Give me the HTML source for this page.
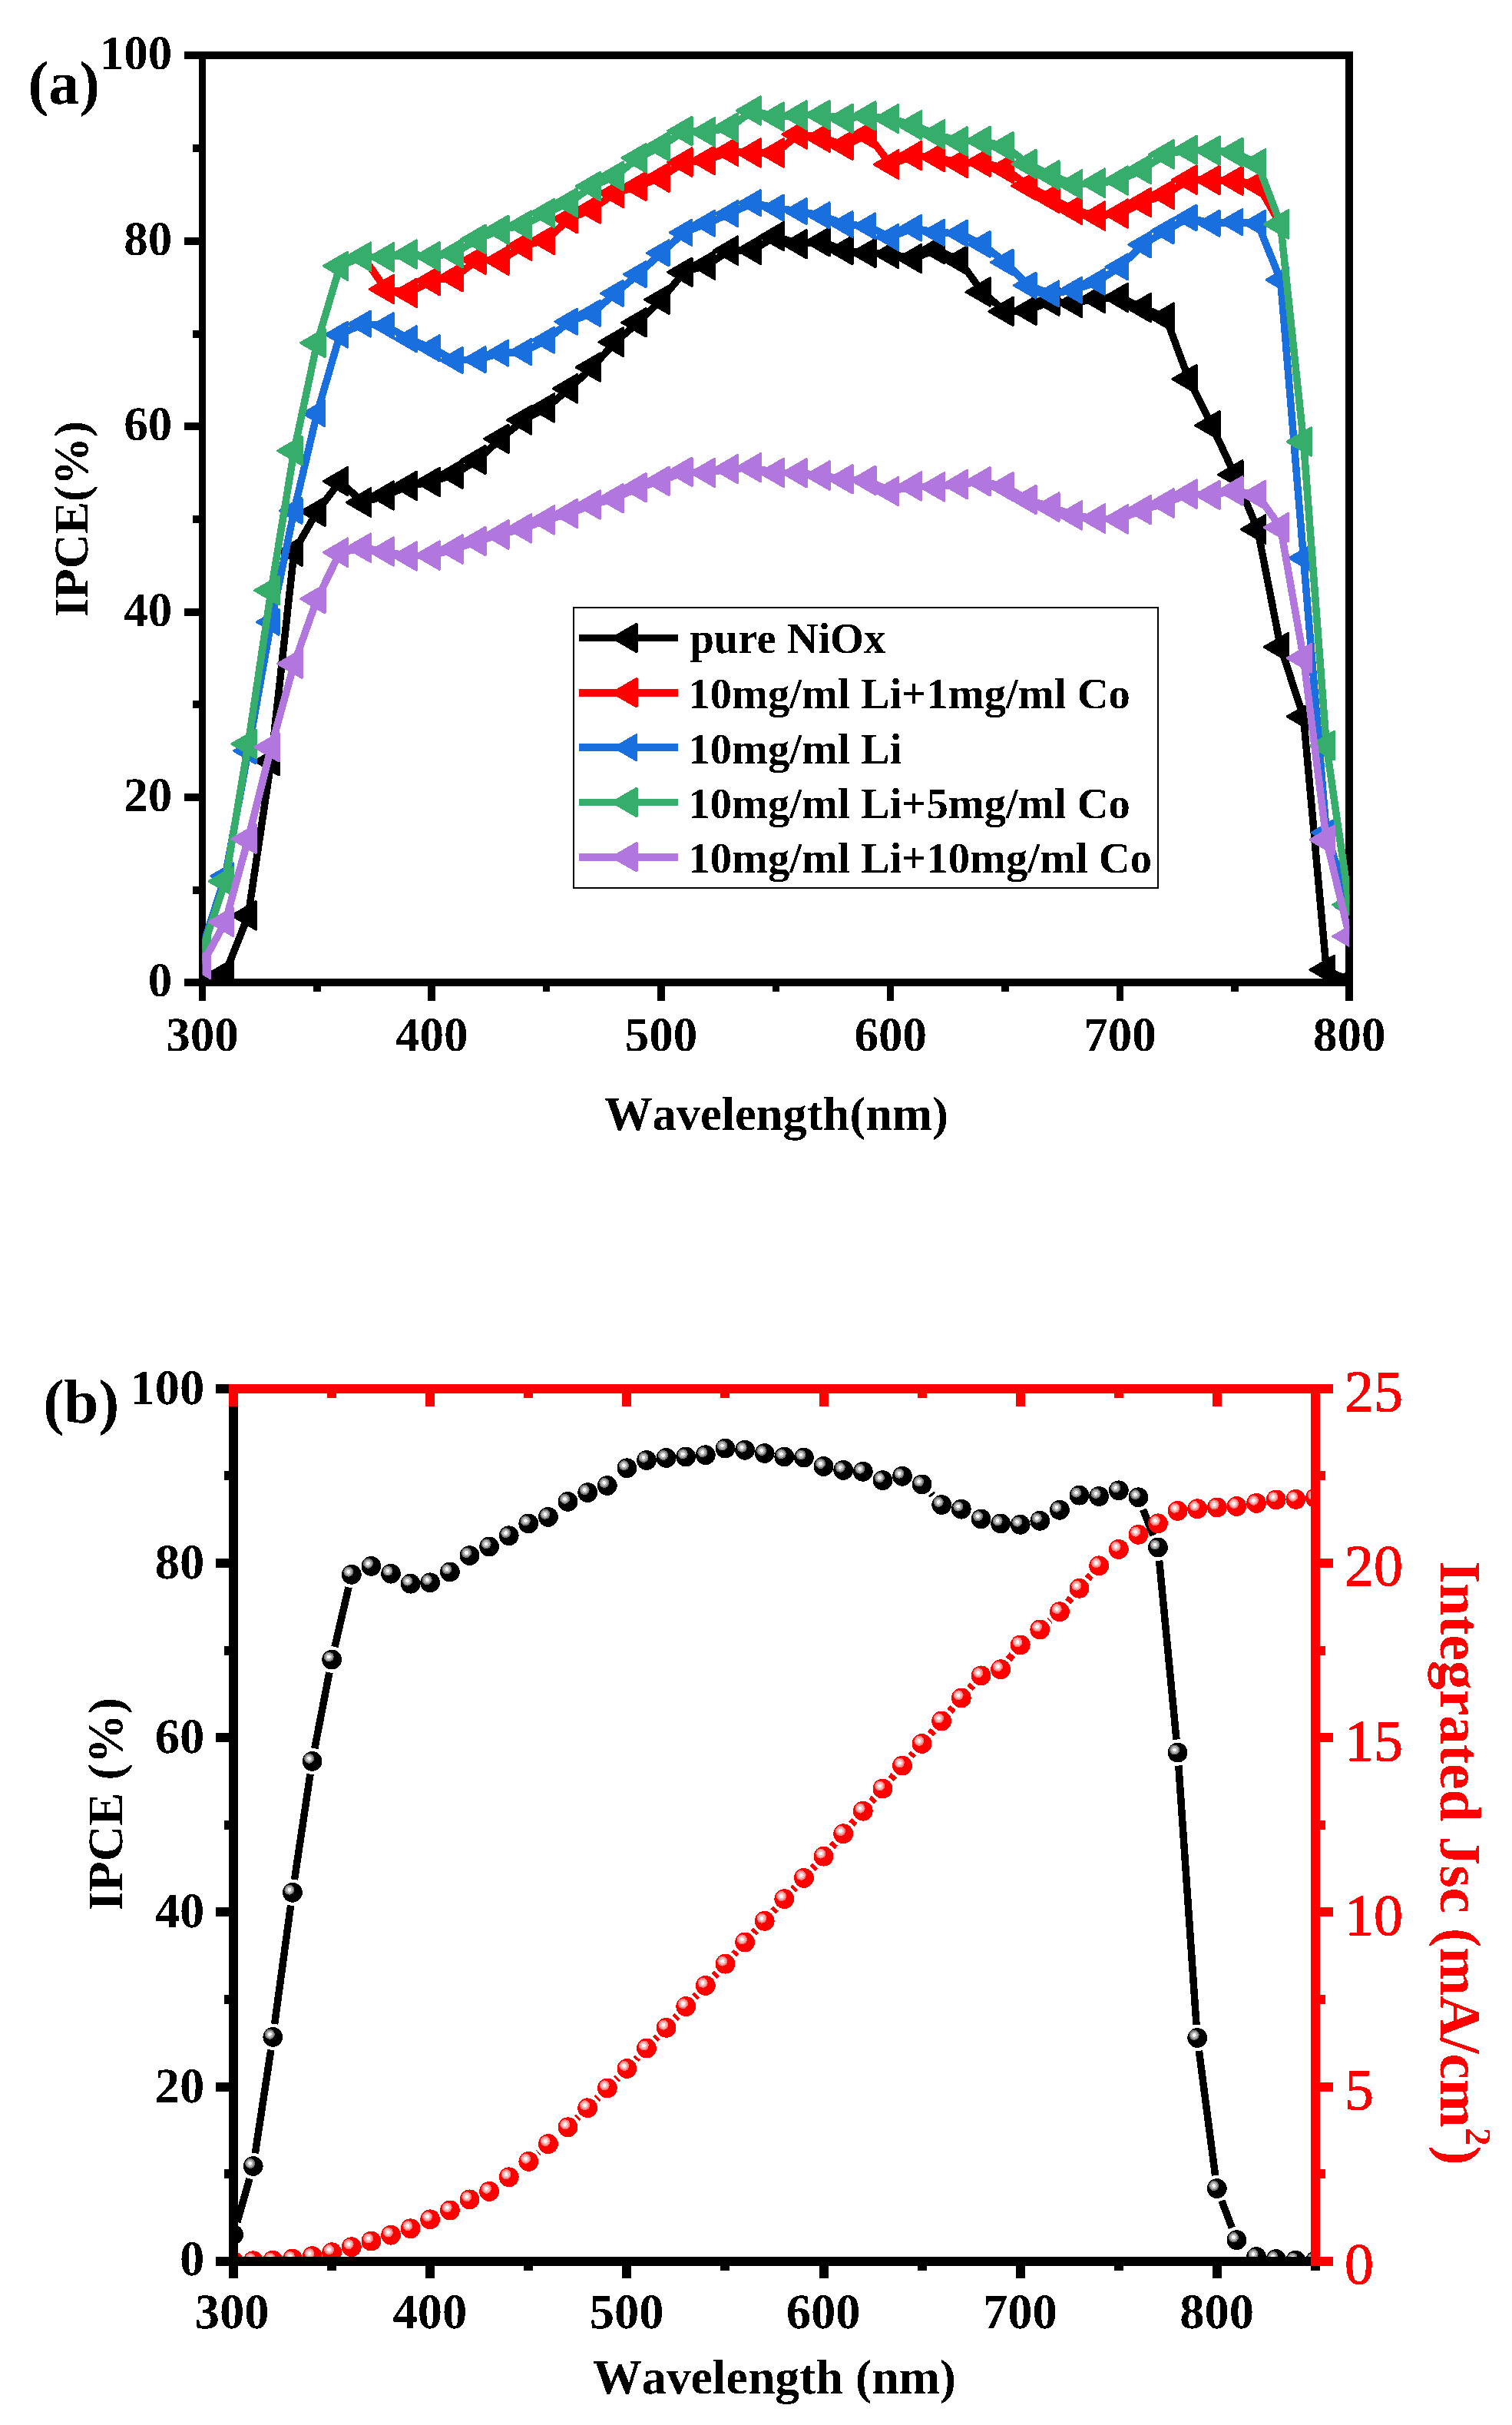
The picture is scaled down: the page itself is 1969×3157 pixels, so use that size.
<!DOCTYPE html>
<html><head><meta charset="utf-8"><title>IPCE spectra</title>
<style>html,body{margin:0;padding:0;background:#fff}svg{display:block}</style></head>
<body><svg width="1969" height="3157" viewBox="0 0 1969 3157" shape-rendering="crispEdges" text-rendering="geometricPrecision"><defs><clipPath id="ca"><rect x="263.5" y="72.3" width="1493.7" height="1211.8"/></clipPath>
<clipPath id="cb"><rect x="304.1" y="1807.9" width="1408.8000000000002" height="1135.9"/></clipPath>
<radialGradient id="gk" cx="0.5" cy="0.5" r="0.5"><stop offset="0" stop-color="#fff"/><stop offset="0.36" stop-color="#fff"/><stop offset="0.38" stop-color="#b4b4b4"/><stop offset="0.71" stop-color="#b4b4b4"/><stop offset="0.73" stop-color="#787878"/><stop offset="1" stop-color="#787878"/></radialGradient>
<radialGradient id="gr" cx="0.5" cy="0.5" r="0.5"><stop offset="0" stop-color="#fff"/><stop offset="0.36" stop-color="#fff"/><stop offset="0.38" stop-color="#ffb8b8"/><stop offset="0.71" stop-color="#ffb8b8"/><stop offset="0.73" stop-color="#ff7c7c"/><stop offset="1" stop-color="#ff7c7c"/></radialGradient>
<filter id="bin" x="0" y="0" width="1969" height="3157" filterUnits="userSpaceOnUse" color-interpolation-filters="sRGB"><feComponentTransfer><feFuncA type="discrete" tableValues="0 1"/></feComponentTransfer></filter>
<g id="bk"><circle r="12.9" fill="#000"/><circle cx="-4" cy="-3.6" r="6.5" fill="url(#gk)"/></g>
<g id="br"><circle r="12.9" fill="#f00"/><circle cx="-3.7" cy="-3.6" r="6.5" fill="url(#gr)"/></g>
</defs>
<rect x="259" y="67" width="1503" height="10" fill="#000"/><rect x="259" y="1274" width="1503" height="10" fill="#000"/><rect x="259" y="67" width="9" height="1217" fill="#000"/><rect x="1752" y="67" width="10" height="1217" fill="#000"/><rect x="239.75" y="1274" width="20.00" height="10" fill="#000"/><rect x="251.25" y="1154" width="8.50" height="9.5" fill="#000"/><rect x="239.75" y="1033" width="20.00" height="10" fill="#000"/><rect x="251.25" y="912" width="8.50" height="9.5" fill="#000"/><rect x="239.75" y="792" width="20.00" height="10" fill="#000"/><rect x="251.25" y="671" width="8.50" height="9.5" fill="#000"/><rect x="239.75" y="550" width="20.00" height="10" fill="#000"/><rect x="251.25" y="430" width="8.50" height="9.5" fill="#000"/><rect x="239.75" y="309" width="20.00" height="10" fill="#000"/><rect x="251.25" y="188" width="8.50" height="9.5" fill="#000"/><rect x="239.75" y="67" width="20.00" height="10" fill="#000"/><rect x="258.75" y="1283.05" width="9.5" height="20.00" fill="#000"/><rect x="408.12" y="1283.05" width="9.5" height="8.00" fill="#000"/><rect x="557.49" y="1283.05" width="9.5" height="20.00" fill="#000"/><rect x="706.86" y="1283.05" width="9.5" height="8.00" fill="#000"/><rect x="856.23" y="1283.05" width="9.5" height="20.00" fill="#000"/><rect x="1005.60" y="1283.05" width="9.5" height="8.00" fill="#000"/><rect x="1154.97" y="1283.05" width="9.5" height="20.00" fill="#000"/><rect x="1304.34" y="1283.05" width="9.5" height="8.00" fill="#000"/><rect x="1453.71" y="1283.05" width="9.5" height="20.00" fill="#000"/><rect x="1603.08" y="1283.05" width="9.5" height="8.00" fill="#000"/><rect x="1752.45" y="1283.05" width="9.5" height="20.00" fill="#000"/>
<g clip-path="url(#ca)">
<polyline points="263.5,1276.9 293.4,1267.2 323.2,1191.9 353.1,990.8 383.0,718.0 412.9,666.1 442.7,626.6 472.6,654.1 502.5,645.0 532.4,632.3 562.2,627.5 592.1,617.3 622.0,598.6 651.9,571.3 681.7,546.9 711.6,531.0 741.5,505.9 771.4,478.1 801.2,445.3 831.1,419.9 861.0,390.1 890.9,354.3 920.7,345.1 950.6,326.1 980.5,325.4 1010.4,307.7 1040.2,317.8 1070.1,314.9 1100.0,325.8 1129.8,329.4 1159.7,330.6 1189.6,336.6 1219.5,324.6 1249.3,339.0 1279.2,380.1 1309.1,405.4 1339.0,404.2 1368.8,392.2 1398.7,394.6 1428.6,388.5 1458.5,387.3 1488.3,400.6 1518.2,413.3 1548.1,493.5 1578.0,553.9 1607.8,617.9 1637.7,689.1 1667.6,842.4 1697.5,932.9 1727.3,1262.5 1757.2,1276.9" fill="none" stroke="#000000" stroke-width="9.5" stroke-linejoin="round"/><g fill="#000000" stroke="#000000" stroke-width="3.2" stroke-linejoin="round"><path d="M242.3 1276.9L273.6 1258.8V1295.0Z"/><path d="M272.2 1267.2L303.5 1249.1V1285.4Z"/><path d="M302.0 1191.9L333.3 1173.8V1210.0Z"/><path d="M331.9 990.8L363.2 972.7V1009.0Z"/><path d="M361.8 718.0L393.1 699.9V736.2Z"/><path d="M391.7 666.1L423.0 648.0V684.3Z"/><path d="M421.5 626.6L452.8 608.4V644.7Z"/><path d="M451.4 654.1L482.7 635.9V672.2Z"/><path d="M481.3 645.0L512.6 626.9V663.2Z"/><path d="M511.2 632.3L542.5 614.2V650.5Z"/><path d="M541.0 627.5L572.3 609.4V645.6Z"/><path d="M570.9 617.3L602.2 599.1V635.4Z"/><path d="M600.8 598.6L632.1 580.4V616.7Z"/><path d="M630.7 571.3L662.0 553.1V589.4Z"/><path d="M660.5 546.9L691.8 528.8V565.0Z"/><path d="M690.4 531.0L721.7 512.8V549.1Z"/><path d="M720.3 505.9L751.6 487.7V524.0Z"/><path d="M750.2 478.1L781.5 460.0V496.2Z"/><path d="M780.0 445.3L811.3 427.1V463.4Z"/><path d="M809.9 419.9L841.2 401.8V438.0Z"/><path d="M839.8 390.1L871.1 372.0V408.2Z"/><path d="M869.7 354.3L901.0 336.1V372.4Z"/><path d="M899.5 345.1L930.8 327.0V363.2Z"/><path d="M929.4 326.1L960.7 308.0V344.3Z"/><path d="M959.3 325.4L990.6 307.3V343.5Z"/><path d="M989.1 307.7L1020.5 289.5V325.8Z"/><path d="M1019.0 317.8L1050.3 299.7V335.9Z"/><path d="M1048.9 314.9L1080.2 296.8V333.0Z"/><path d="M1078.8 325.8L1110.1 307.6V343.9Z"/><path d="M1108.6 329.4L1139.9 311.3V347.5Z"/><path d="M1138.5 330.6L1169.8 312.5V348.7Z"/><path d="M1168.4 336.6L1199.7 318.5V354.8Z"/><path d="M1198.3 324.6L1229.6 306.4V342.7Z"/><path d="M1228.1 339.0L1259.4 320.9V357.2Z"/><path d="M1258.0 380.1L1289.3 362.0V398.2Z"/><path d="M1287.9 405.4L1319.2 387.3V423.6Z"/><path d="M1317.8 404.2L1349.1 386.1V422.4Z"/><path d="M1347.6 392.2L1378.9 374.0V410.3Z"/><path d="M1377.5 394.6L1408.8 376.4V412.7Z"/><path d="M1407.4 388.5L1438.7 370.4V406.7Z"/><path d="M1437.3 387.3L1468.6 369.2V405.5Z"/><path d="M1467.1 400.6L1498.4 382.5V418.7Z"/><path d="M1497.0 413.3L1528.3 395.1V431.4Z"/><path d="M1526.9 493.5L1558.2 475.4V511.7Z"/><path d="M1556.8 553.9L1588.1 535.8V572.0Z"/><path d="M1586.6 617.9L1617.9 599.7V636.0Z"/><path d="M1616.5 689.1L1647.8 670.9V707.2Z"/><path d="M1646.4 842.4L1677.7 824.2V860.5Z"/><path d="M1676.3 932.9L1707.6 914.8V951.0Z"/><path d="M1706.1 1262.5L1737.4 1244.4V1280.7Z"/><path d="M1736.0 1276.9L1767.3 1258.8V1295.0Z"/></g>
<polyline points="263.5,1237.1 293.4,1147.4 323.2,968.5 353.1,768.7 383.0,586.8 412.9,446.5 442.7,346.3 472.6,334.2 502.5,376.5 532.4,381.3 562.2,365.6 592.1,360.8 622.0,338.2 651.9,339.0 681.7,320.1 711.6,312.5 741.5,284.7 771.4,272.1 801.2,251.3 831.1,242.5 861.0,231.0 890.9,211.1 920.7,208.7 950.6,197.1 980.5,199.0 1010.4,199.0 1040.2,174.9 1070.1,179.1 1100.0,189.4 1129.8,174.9 1159.7,214.1 1189.6,202.7 1219.5,204.5 1249.3,212.3 1279.2,211.1 1309.1,219.6 1339.0,241.9 1368.8,258.2 1398.7,273.3 1428.6,281.1 1458.5,278.1 1488.3,263.6 1518.2,253.3 1548.1,234.0 1578.0,234.5 1607.8,235.2 1637.7,240.1 1667.6,292.0 1697.5,575.0 1727.3,970.7 1757.2,1177.9" fill="none" stroke="#ff0000" stroke-width="9.5" stroke-linejoin="round"/><g fill="#ff0000" stroke="#ff0000" stroke-width="3.2" stroke-linejoin="round"><path d="M242.3 1237.1L273.6 1218.9V1255.2Z"/><path d="M272.2 1147.4L303.5 1129.2V1165.5Z"/><path d="M302.0 968.5L333.3 950.4V986.6Z"/><path d="M331.9 768.7L363.2 750.6V786.9Z"/><path d="M361.8 586.8L393.1 568.7V605.0Z"/><path d="M391.7 446.5L423.0 428.3V464.6Z"/><path d="M421.5 346.3L452.8 328.2V364.4Z"/><path d="M451.4 334.2L482.7 316.1V352.3Z"/><path d="M481.3 376.5L512.6 358.3V394.6Z"/><path d="M511.2 381.3L542.5 363.2V399.4Z"/><path d="M541.0 365.6L572.3 347.5V383.7Z"/><path d="M570.9 360.8L602.2 342.6V378.9Z"/><path d="M600.8 338.2L632.1 320.1V356.3Z"/><path d="M630.7 339.0L662.0 320.9V357.2Z"/><path d="M660.5 320.1L691.8 302.0V338.2Z"/><path d="M690.4 312.5L721.7 294.4V330.6Z"/><path d="M720.3 284.7L751.6 266.6V302.9Z"/><path d="M750.2 272.1L781.5 253.9V290.2Z"/><path d="M780.0 251.3L811.3 233.2V269.4Z"/><path d="M809.9 242.5L841.2 224.4V260.6Z"/><path d="M839.8 231.0L871.1 212.9V249.2Z"/><path d="M869.7 211.1L901.0 193.0V229.2Z"/><path d="M899.5 208.7L930.8 190.6V226.8Z"/><path d="M929.4 197.1L960.7 179.0V215.2Z"/><path d="M959.3 199.0L990.6 180.9V217.2Z"/><path d="M989.1 199.0L1020.5 180.9V217.2Z"/><path d="M1019.0 174.9L1050.3 156.8V193.0Z"/><path d="M1048.9 179.1L1080.2 161.0V197.2Z"/><path d="M1078.8 189.4L1110.1 171.2V207.5Z"/><path d="M1108.6 174.9L1139.9 156.8V193.0Z"/><path d="M1138.5 214.1L1169.8 196.0V232.3Z"/><path d="M1168.4 202.7L1199.7 184.5V220.8Z"/><path d="M1198.3 204.5L1229.6 186.3V222.6Z"/><path d="M1228.1 212.3L1259.4 194.2V230.4Z"/><path d="M1258.0 211.1L1289.3 193.0V229.2Z"/><path d="M1287.9 219.6L1319.2 201.4V237.7Z"/><path d="M1317.8 241.9L1349.1 223.8V260.0Z"/><path d="M1347.6 258.2L1378.9 240.0V276.3Z"/><path d="M1377.5 273.3L1408.8 255.1V291.4Z"/><path d="M1407.4 281.1L1438.7 263.0V299.2Z"/><path d="M1437.3 278.1L1468.6 260.0V296.2Z"/><path d="M1467.1 263.6L1498.4 245.5V281.7Z"/><path d="M1497.0 253.3L1528.3 235.2V271.5Z"/><path d="M1526.9 234.0L1558.2 215.9V252.2Z"/><path d="M1556.8 234.5L1588.1 216.4V252.7Z"/><path d="M1586.6 235.2L1617.9 217.1V253.4Z"/><path d="M1616.5 240.1L1647.8 221.9V258.2Z"/><path d="M1646.4 292.0L1677.7 273.8V310.1Z"/><path d="M1676.3 575.0L1707.6 556.9V593.1Z"/><path d="M1706.1 970.7L1737.4 952.5V988.8Z"/><path d="M1736.0 1177.9L1767.3 1159.8V1196.0Z"/></g>
<polyline points="263.5,1233.4 293.4,1140.5 323.2,977.5 353.1,809.8 383.0,664.9 412.9,538.2 442.7,435.6 472.6,421.6 502.5,424.1 532.4,441.3 562.2,453.3 592.1,469.0 622.0,468.2 651.9,459.7 681.7,458.1 711.6,442.8 741.5,418.7 771.4,407.8 801.2,381.9 831.1,357.2 861.0,329.4 890.9,302.8 920.7,290.8 950.6,278.1 980.5,264.2 1010.4,270.6 1040.2,275.1 1070.1,280.4 1100.0,292.0 1129.8,294.4 1159.7,308.9 1189.6,296.8 1219.5,302.8 1249.3,303.7 1279.2,318.0 1309.1,341.5 1339.0,371.6 1368.8,382.5 1398.7,377.7 1428.6,366.8 1458.5,347.5 1488.3,318.5 1518.2,300.4 1548.1,283.5 1578.0,290.8 1607.8,289.1 1637.7,290.8 1667.6,364.4 1697.5,726.5 1727.3,1083.8 1757.2,1180.3" fill="none" stroke="#1a6fdf" stroke-width="9.5" stroke-linejoin="round"/><g fill="#1a6fdf" stroke="#1a6fdf" stroke-width="3.2" stroke-linejoin="round"><path d="M245.0 1233.4L273.4 1217.0V1249.8Z"/><path d="M274.9 1140.5L303.3 1124.1V1156.9Z"/><path d="M304.7 977.5L333.1 961.1V993.9Z"/><path d="M334.6 809.8L363.0 793.4V826.2Z"/><path d="M364.5 664.9L392.9 648.5V681.3Z"/><path d="M394.4 538.2L422.8 521.8V554.6Z"/><path d="M424.2 435.6L452.6 419.2V452.0Z"/><path d="M454.1 421.6L482.5 405.2V438.0Z"/><path d="M484.0 424.1L512.4 407.7V440.5Z"/><path d="M513.9 441.3L542.3 424.9V457.7Z"/><path d="M543.7 453.3L572.1 436.9V469.7Z"/><path d="M573.6 469.0L602.0 452.6V485.4Z"/><path d="M603.5 468.2L631.9 451.8V484.6Z"/><path d="M633.4 459.7L661.8 443.3V476.1Z"/><path d="M663.2 458.1L691.6 441.7V474.5Z"/><path d="M693.1 442.8L721.5 426.4V459.2Z"/><path d="M723.0 418.7L751.4 402.3V435.1Z"/><path d="M752.9 407.8L781.3 391.4V424.2Z"/><path d="M782.7 381.9L811.1 365.5V398.3Z"/><path d="M812.6 357.2L841.0 340.8V373.6Z"/><path d="M842.5 329.4L870.9 313.0V345.8Z"/><path d="M872.4 302.8L900.8 286.4V319.2Z"/><path d="M902.2 290.8L930.6 274.4V307.2Z"/><path d="M932.1 278.1L960.5 261.7V294.5Z"/><path d="M962.0 264.2L990.4 247.8V280.6Z"/><path d="M991.9 270.6L1020.2 254.2V287.0Z"/><path d="M1021.7 275.1L1050.1 258.7V291.5Z"/><path d="M1051.6 280.4L1080.0 264.0V296.8Z"/><path d="M1081.5 292.0L1109.9 275.6V308.4Z"/><path d="M1111.3 294.4L1139.7 278.0V310.8Z"/><path d="M1141.2 308.9L1169.6 292.5V325.3Z"/><path d="M1171.1 296.8L1199.5 280.4V313.2Z"/><path d="M1201.0 302.8L1229.4 286.4V319.2Z"/><path d="M1230.8 303.7L1259.2 287.3V320.1Z"/><path d="M1260.7 318.0L1289.1 301.6V334.4Z"/><path d="M1290.6 341.5L1319.0 325.1V357.9Z"/><path d="M1320.5 371.6L1348.9 355.2V388.0Z"/><path d="M1350.3 382.5L1378.7 366.1V398.9Z"/><path d="M1380.2 377.7L1408.6 361.3V394.1Z"/><path d="M1410.1 366.8L1438.5 350.4V383.2Z"/><path d="M1440.0 347.5L1468.4 331.1V363.9Z"/><path d="M1469.8 318.5L1498.2 302.1V334.9Z"/><path d="M1499.7 300.4L1528.1 284.0V316.8Z"/><path d="M1529.6 283.5L1558.0 267.1V299.9Z"/><path d="M1559.5 290.8L1587.9 274.4V307.2Z"/><path d="M1589.3 289.1L1617.7 272.7V305.5Z"/><path d="M1619.2 290.8L1647.6 274.4V307.2Z"/><path d="M1649.1 364.4L1677.5 348.0V380.8Z"/><path d="M1679.0 726.5L1707.4 710.1V742.9Z"/><path d="M1708.8 1083.8L1737.2 1067.4V1100.2Z"/><path d="M1738.7 1180.3L1767.1 1163.9V1196.7Z"/></g>
<polyline points="263.5,1237.1 293.4,1147.4 323.2,968.5 353.1,768.7 383.0,586.8 412.9,446.5 442.7,346.3 472.6,334.2 502.5,334.8 532.4,331.1 562.2,333.7 592.1,329.8 622.0,311.3 651.9,299.2 681.7,293.2 711.6,277.5 741.5,263.6 771.4,242.5 801.2,229.2 831.1,205.7 861.0,190.6 890.9,170.5 920.7,171.9 950.6,165.8 980.5,144.0 1010.4,152.0 1040.2,149.9 1070.1,149.5 1100.0,154.4 1129.8,150.8 1159.7,154.6 1189.6,162.8 1219.5,174.9 1249.3,183.9 1279.2,183.3 1309.1,190.6 1339.0,213.5 1368.8,228.0 1398.7,240.1 1428.6,238.3 1458.5,235.0 1488.3,220.5 1518.2,200.8 1548.1,195.4 1578.0,196.1 1607.8,198.2 1637.7,212.8 1667.6,292.0 1697.5,575.0 1727.3,970.7 1757.2,1177.9" fill="none" stroke="#37ad6b" stroke-width="9.5" stroke-linejoin="round"/><g fill="#37ad6b" stroke="#37ad6b" stroke-width="3.2" stroke-linejoin="round"><path d="M242.3 1237.1L273.6 1218.9V1255.2Z"/><path d="M272.2 1147.4L303.5 1129.2V1165.5Z"/><path d="M302.0 968.5L333.3 950.4V986.6Z"/><path d="M331.9 768.7L363.2 750.6V786.9Z"/><path d="M361.8 586.8L393.1 568.7V605.0Z"/><path d="M391.7 446.5L423.0 428.3V464.6Z"/><path d="M421.5 346.3L452.8 328.2V364.4Z"/><path d="M451.4 334.2L482.7 316.1V352.3Z"/><path d="M481.3 334.8L512.6 316.7V353.0Z"/><path d="M511.2 331.1L542.5 313.0V349.2Z"/><path d="M541.0 333.7L572.3 315.6V351.9Z"/><path d="M570.9 329.8L602.2 311.6V347.9Z"/><path d="M600.8 311.3L632.1 293.2V329.4Z"/><path d="M630.7 299.2L662.0 281.1V317.3Z"/><path d="M660.5 293.2L691.8 275.1V311.3Z"/><path d="M690.4 277.5L721.7 259.4V295.6Z"/><path d="M720.3 263.6L751.6 245.5V281.7Z"/><path d="M750.2 242.5L781.5 224.4V260.6Z"/><path d="M780.0 229.2L811.3 211.1V247.3Z"/><path d="M809.9 205.7L841.2 187.5V223.8Z"/><path d="M839.8 190.6L871.1 172.5V208.7Z"/><path d="M869.7 170.5L901.0 152.4V188.7Z"/><path d="M899.5 171.9L930.8 153.7V190.0Z"/><path d="M929.4 165.8L960.7 147.7V184.0Z"/><path d="M959.3 144.0L990.6 125.9V162.1Z"/><path d="M989.1 152.0L1020.5 133.8V170.1Z"/><path d="M1019.0 149.9L1050.3 131.8V168.0Z"/><path d="M1048.9 149.5L1080.2 131.4V167.7Z"/><path d="M1078.8 154.4L1110.1 136.2V172.5Z"/><path d="M1108.6 150.8L1139.9 132.6V168.9Z"/><path d="M1138.5 154.6L1169.8 136.5V172.7Z"/><path d="M1168.4 162.8L1199.7 144.7V181.0Z"/><path d="M1198.3 174.9L1229.6 156.8V193.0Z"/><path d="M1228.1 183.9L1259.4 165.8V202.1Z"/><path d="M1258.0 183.3L1289.3 165.2V201.5Z"/><path d="M1287.9 190.6L1319.2 172.5V208.7Z"/><path d="M1317.8 213.5L1349.1 195.4V231.6Z"/><path d="M1347.6 228.0L1378.9 209.9V246.1Z"/><path d="M1377.5 240.1L1408.8 221.9V258.2Z"/><path d="M1407.4 238.3L1438.7 220.1V256.4Z"/><path d="M1437.3 235.0L1468.6 216.9V253.1Z"/><path d="M1467.1 220.5L1498.4 202.4V238.6Z"/><path d="M1497.0 200.8L1528.3 182.7V219.0Z"/><path d="M1526.9 195.4L1558.2 177.3V213.5Z"/><path d="M1556.8 196.1L1588.1 178.0V214.3Z"/><path d="M1586.6 198.2L1617.9 180.1V216.3Z"/><path d="M1616.5 212.8L1647.8 194.7V230.9Z"/><path d="M1646.4 292.0L1677.7 273.8V310.1Z"/><path d="M1676.3 575.0L1707.6 556.9V593.1Z"/><path d="M1706.1 970.7L1737.4 952.5V988.8Z"/><path d="M1736.0 1177.9L1767.3 1159.8V1196.0Z"/></g>
<polyline points="263.5,1255.2 293.4,1200.2 323.2,1092.2 353.1,972.7 383.0,864.1 412.9,779.6 442.7,719.3 472.6,713.2 502.5,718.0 532.4,724.1 562.2,723.1 592.1,715.0 622.0,704.5 651.9,696.0 681.7,687.9 711.6,677.0 741.5,668.6 771.4,657.1 801.2,648.8 831.1,634.8 861.0,626.3 890.9,614.2 920.7,615.4 950.6,610.6 980.5,608.8 1010.4,615.4 1040.2,615.8 1070.1,619.1 1100.0,623.9 1129.8,625.3 1159.7,639.6 1189.6,633.0 1219.5,633.9 1249.3,630.7 1279.2,626.8 1309.1,633.6 1339.0,650.5 1368.8,660.1 1398.7,671.0 1428.6,675.1 1458.5,675.9 1488.3,663.7 1518.2,655.0 1548.1,643.2 1578.0,644.4 1607.8,639.0 1637.7,644.4 1667.6,686.7 1697.5,856.8 1727.3,1093.4 1757.2,1219.0" fill="none" stroke="#b177de" stroke-width="9.5" stroke-linejoin="round"/><g fill="#b177de" stroke="#b177de" stroke-width="3.2" stroke-linejoin="round"><path d="M242.3 1255.2L273.6 1237.0V1273.3Z"/><path d="M272.2 1200.2L303.5 1182.1V1218.4Z"/><path d="M302.0 1092.2L333.3 1074.1V1110.3Z"/><path d="M331.9 972.7L363.2 954.6V990.9Z"/><path d="M361.8 864.1L393.1 846.0V882.2Z"/><path d="M391.7 779.6L423.0 761.5V797.7Z"/><path d="M421.5 719.3L452.8 701.1V737.4Z"/><path d="M451.4 713.2L482.7 695.1V731.3Z"/><path d="M481.3 718.0L512.6 699.9V736.2Z"/><path d="M511.2 724.1L542.5 705.9V742.2Z"/><path d="M541.0 723.1L572.3 705.0V741.2Z"/><path d="M570.9 715.0L602.2 696.9V733.2Z"/><path d="M600.8 704.5L632.1 686.4V722.7Z"/><path d="M630.7 696.0L662.0 677.8V714.1Z"/><path d="M660.5 687.9L691.8 669.7V706.0Z"/><path d="M690.4 677.0L721.7 658.9V695.1Z"/><path d="M720.3 668.6L751.6 650.4V686.7Z"/><path d="M750.2 657.1L781.5 639.0V675.2Z"/><path d="M780.0 648.8L811.3 630.6V666.9Z"/><path d="M809.9 634.8L841.2 616.6V652.9Z"/><path d="M839.8 626.3L871.1 608.2V644.4Z"/><path d="M869.7 614.2L901.0 596.1V632.4Z"/><path d="M899.5 615.4L930.8 597.3V633.6Z"/><path d="M929.4 610.6L960.7 592.5V628.8Z"/><path d="M959.3 608.8L990.6 590.7V626.9Z"/><path d="M989.1 615.4L1020.5 597.3V633.6Z"/><path d="M1019.0 615.8L1050.3 597.7V633.9Z"/><path d="M1048.9 619.1L1080.2 600.9V637.2Z"/><path d="M1078.8 623.9L1110.1 605.8V642.0Z"/><path d="M1108.6 625.3L1139.9 607.2V643.5Z"/><path d="M1138.5 639.6L1169.8 621.5V657.7Z"/><path d="M1168.4 633.0L1199.7 614.8V651.1Z"/><path d="M1198.3 633.9L1229.6 615.8V652.0Z"/><path d="M1228.1 630.7L1259.4 612.5V648.8Z"/><path d="M1258.0 626.8L1289.3 608.7V644.9Z"/><path d="M1287.9 633.6L1319.2 615.4V651.7Z"/><path d="M1317.8 650.5L1349.1 632.3V668.6Z"/><path d="M1347.6 660.1L1378.9 642.0V678.2Z"/><path d="M1377.5 671.0L1408.8 652.8V689.1Z"/><path d="M1407.4 675.1L1438.7 656.9V693.2Z"/><path d="M1437.3 675.9L1468.6 657.8V694.1Z"/><path d="M1467.1 663.7L1498.4 645.6V681.9Z"/><path d="M1497.0 655.0L1528.3 636.9V673.2Z"/><path d="M1526.9 643.2L1558.2 625.1V661.3Z"/><path d="M1556.8 644.4L1588.1 626.3V662.5Z"/><path d="M1586.6 639.0L1617.9 620.9V657.1Z"/><path d="M1616.5 644.4L1647.8 626.3V662.5Z"/><path d="M1646.4 686.7L1677.7 668.5V704.8Z"/><path d="M1676.3 856.8L1707.6 838.7V875.0Z"/><path d="M1706.1 1093.4L1737.4 1075.3V1111.6Z"/><path d="M1736.0 1219.0L1767.3 1200.8V1237.1Z"/></g>
</g>
<rect x="747" y="791" width="761" height="365" fill="#fff" stroke="#000" stroke-width="2"/>
<rect x="754" y="826.00" width="129" height="9" fill="#000000"/>
<g fill="#000000" stroke="#000000" stroke-width="3.2" stroke-linejoin="round"><path d="M797.7 830.5L829.0 812.4V848.6Z"/></g>
<rect x="754" y="896.93" width="129" height="9.8" fill="#ff0000"/>
<g fill="#ff0000" stroke="#ff0000" stroke-width="3.2" stroke-linejoin="round"><path d="M797.7 901.8L829.0 883.7V920.0Z"/></g>
<rect x="754" y="968.26" width="129" height="9.8" fill="#1a6fdf"/>
<g fill="#1a6fdf" stroke="#1a6fdf" stroke-width="3.2" stroke-linejoin="round"><path d="M800.4 973.2L828.8 956.8V989.6Z"/></g>
<rect x="754" y="1039.59" width="129" height="9.8" fill="#37ad6b"/>
<g fill="#37ad6b" stroke="#37ad6b" stroke-width="3.2" stroke-linejoin="round"><path d="M797.7 1044.5L829.0 1026.4V1062.6Z"/></g>
<rect x="754" y="1110.92" width="129" height="9.8" fill="#b177de"/>
<g fill="#b177de" stroke="#b177de" stroke-width="3.2" stroke-linejoin="round"><path d="M797.7 1115.8L829.0 1097.7V1134.0Z"/></g>
<g clip-path="url(#cb)">
<g stroke="#000" stroke-width="9.5" fill="none"><path d="M308.8 2892.8L325.0 2836.3"/><path d="M332.3 2803.2L352.8 2668.7"/><path d="M357.6 2635.0L378.6 2480.6"/><path d="M383.5 2447.0L404.0 2309.7"/><path d="M409.8 2276.2L428.9 2177.3"/><path d="M436.0 2144.0L454.0 2066.4"/><path d="M1212.4 1944.6L1214.4 1946.7"/><path d="M1488.6 1965.1L1501.8 1998.8"/><path d="M1509.6 2031.6L1532.0 2264.6"/><path d="M1534.8 2298.5L1558.0 2636.0"/><path d="M1561.4 2669.9L1582.6 2832.2"/><path d="M1590.9 2864.9L1604.4 2900.3"/></g>
<use href="#bk" x="304.1" y="2909.2"/>
<use href="#bk" x="329.7" y="2820.0"/>
<use href="#bk" x="355.3" y="2651.9"/>
<use href="#bk" x="380.9" y="2463.8"/>
<use href="#bk" x="406.6" y="2292.9"/>
<use href="#bk" x="432.2" y="2160.6"/>
<use href="#bk" x="457.8" y="2049.8"/>
<use href="#bk" x="483.4" y="2038.9"/>
<use href="#bk" x="509.0" y="2048.7"/>
<use href="#bk" x="534.6" y="2061.7"/>
<use href="#bk" x="560.2" y="2060.3"/>
<use href="#bk" x="585.9" y="2046.4"/>
<use href="#bk" x="611.5" y="2025.1"/>
<use href="#bk" x="637.1" y="2013.5"/>
<use href="#bk" x="662.7" y="1999.3"/>
<use href="#bk" x="688.3" y="1983.4"/>
<use href="#bk" x="713.9" y="1974.9"/>
<use href="#bk" x="739.5" y="1954.9"/>
<use href="#bk" x="765.2" y="1943.1"/>
<use href="#bk" x="790.8" y="1934.0"/>
<use href="#bk" x="816.4" y="1911.3"/>
<use href="#bk" x="842.0" y="1901.0"/>
<use href="#bk" x="867.6" y="1898.0"/>
<use href="#bk" x="893.2" y="1896.5"/>
<use href="#bk" x="918.8" y="1894.2"/>
<use href="#bk" x="944.5" y="1885.6"/>
<use href="#bk" x="970.1" y="1887.8"/>
<use href="#bk" x="995.7" y="1892.0"/>
<use href="#bk" x="1021.3" y="1896.5"/>
<use href="#bk" x="1046.9" y="1897.6"/>
<use href="#bk" x="1072.5" y="1909.0"/>
<use href="#bk" x="1098.2" y="1913.9"/>
<use href="#bk" x="1123.8" y="1915.8"/>
<use href="#bk" x="1149.4" y="1927.2"/>
<use href="#bk" x="1175.0" y="1921.8"/>
<use href="#bk" x="1200.6" y="1932.4"/>
<use href="#bk" x="1226.2" y="1959.0"/>
<use href="#bk" x="1251.8" y="1964.7"/>
<use href="#bk" x="1277.5" y="1977.4"/>
<use href="#bk" x="1303.1" y="1983.4"/>
<use href="#bk" x="1328.7" y="1984.8"/>
<use href="#bk" x="1354.3" y="1979.8"/>
<use href="#bk" x="1379.9" y="1965.8"/>
<use href="#bk" x="1405.5" y="1946.7"/>
<use href="#bk" x="1431.1" y="1948.0"/>
<use href="#bk" x="1456.8" y="1940.3"/>
<use href="#bk" x="1482.4" y="1949.3"/>
<use href="#bk" x="1508.0" y="2014.6"/>
<use href="#bk" x="1533.6" y="2281.6"/>
<use href="#bk" x="1559.2" y="2653.0"/>
<use href="#bk" x="1584.8" y="2849.1"/>
<use href="#bk" x="1610.4" y="2916.2"/>
<use href="#bk" x="1636.1" y="2938.1"/>
<use href="#bk" x="1661.7" y="2941.0"/>
<use href="#bk" x="1687.3" y="2942.7"/>
<use href="#bk" x="1712.9" y="2943.2"/>
<g stroke="#f00" stroke-width="9.5" fill="none"><path d="M700.7 2802.8L701.5 2802.1"/><path d="M751.4 2757.7L753.3 2755.9"/><path d="M776.8 2732.5L779.1 2730.2"/><path d="M802.6 2706.7L804.6 2704.7"/><path d="M828.0 2681.1L830.4 2678.5"/><path d="M853.5 2654.6L856.2 2651.8"/><path d="M878.9 2627.6L882.0 2624.3"/><path d="M904.6 2600.0L907.5 2597.0"/><path d="M930.0 2572.6L933.3 2569.0"/><path d="M955.6 2544.4L958.9 2540.8"/><path d="M981.3 2516.3L984.4 2513.0"/><path d="M1006.8 2488.4L1010.2 2484.5"/><path d="M1032.7 2460.1L1035.6 2457.0"/><path d="M1058.1 2432.6L1061.4 2429.0"/><path d="M1083.4 2404.2L1087.3 2399.7"/><path d="M1109.0 2374.7L1112.9 2370.2"/><path d="M1134.7 2345.2L1138.4 2341.1"/><path d="M1160.2 2316.0L1164.2 2311.2"/><path d="M1186.1 2286.2L1189.5 2282.4"/><path d="M1211.5 2257.4L1215.3 2253.0"/><path d="M1237.0 2227.8L1241.1 2223.1"/><path d="M1262.8 2198.0L1266.5 2193.8"/><path d="M1313.5 2160.3L1318.3 2154.3"/><path d="M1366.6 2110.3L1367.6 2109.4"/><path d="M1390.6 2085.5L1394.8 2080.5"/><path d="M1416.4 2055.3L1420.3 2050.8"/></g>
<use href="#br" x="304.1" y="2943.8"/>
<use href="#br" x="329.7" y="2943.3"/>
<use href="#br" x="355.3" y="2942.7"/>
<use href="#br" x="380.9" y="2940.6"/>
<use href="#br" x="406.6" y="2937.2"/>
<use href="#br" x="432.2" y="2932.2"/>
<use href="#br" x="457.8" y="2925.2"/>
<use href="#br" x="483.4" y="2917.6"/>
<use href="#br" x="509.0" y="2909.7"/>
<use href="#br" x="534.6" y="2901.3"/>
<use href="#br" x="560.2" y="2889.3"/>
<use href="#br" x="585.9" y="2877.5"/>
<use href="#br" x="611.5" y="2863.4"/>
<use href="#br" x="637.1" y="2852.9"/>
<use href="#br" x="662.7" y="2834.3"/>
<use href="#br" x="688.3" y="2813.9"/>
<use href="#br" x="713.9" y="2791.1"/>
<use href="#br" x="739.5" y="2769.3"/>
<use href="#br" x="765.2" y="2744.3"/>
<use href="#br" x="790.8" y="2718.4"/>
<use href="#br" x="816.4" y="2693.0"/>
<use href="#br" x="842.0" y="2666.6"/>
<use href="#br" x="867.6" y="2639.8"/>
<use href="#br" x="893.2" y="2612.1"/>
<use href="#br" x="918.8" y="2584.9"/>
<use href="#br" x="944.5" y="2556.7"/>
<use href="#br" x="970.1" y="2528.5"/>
<use href="#br" x="995.7" y="2500.8"/>
<use href="#br" x="1021.3" y="2472.2"/>
<use href="#br" x="1046.9" y="2444.9"/>
<use href="#br" x="1072.5" y="2416.7"/>
<use href="#br" x="1098.2" y="2387.2"/>
<use href="#br" x="1123.8" y="2357.7"/>
<use href="#br" x="1149.4" y="2328.6"/>
<use href="#br" x="1175.0" y="2298.6"/>
<use href="#br" x="1200.6" y="2270.0"/>
<use href="#br" x="1226.2" y="2240.5"/>
<use href="#br" x="1251.8" y="2210.5"/>
<use href="#br" x="1277.5" y="2181.4"/>
<use href="#br" x="1303.1" y="2173.2"/>
<use href="#br" x="1328.7" y="2141.4"/>
<use href="#br" x="1354.3" y="2121.4"/>
<use href="#br" x="1379.9" y="2098.2"/>
<use href="#br" x="1405.5" y="2067.8"/>
<use href="#br" x="1431.1" y="2038.3"/>
<use href="#br" x="1456.8" y="2016.9"/>
<use href="#br" x="1482.4" y="1997.8"/>
<use href="#br" x="1508.0" y="1983.3"/>
<use href="#br" x="1533.6" y="1966.9"/>
<use href="#br" x="1559.2" y="1964.2"/>
<use href="#br" x="1584.8" y="1962.4"/>
<use href="#br" x="1610.4" y="1961.0"/>
<use href="#br" x="1636.1" y="1956.9"/>
<use href="#br" x="1661.7" y="1952.4"/>
<use href="#br" x="1687.3" y="1951.9"/>
<use href="#br" x="1712.9" y="1950.1"/>
</g>
<rect x="281.10" y="2937.80" width="1437.80" height="12" fill="#000"/>
<rect x="298.10" y="1801.90" width="12" height="1164.40" fill="#000"/>
<rect x="281.10" y="2937.80" width="18.00" height="12" fill="#000"/>
<rect x="291.70" y="2824.21" width="7.40" height="12" fill="#000"/>
<rect x="281.10" y="2710.62" width="18.00" height="12" fill="#000"/>
<rect x="291.70" y="2597.03" width="7.40" height="12" fill="#000"/>
<rect x="281.10" y="2483.44" width="18.00" height="12" fill="#000"/>
<rect x="291.70" y="2369.85" width="7.40" height="12" fill="#000"/>
<rect x="281.10" y="2256.26" width="18.00" height="12" fill="#000"/>
<rect x="291.70" y="2142.67" width="7.40" height="12" fill="#000"/>
<rect x="281.10" y="2029.08" width="18.00" height="12" fill="#000"/>
<rect x="291.70" y="1915.49" width="7.40" height="12" fill="#000"/>
<rect x="281.10" y="1801.90" width="18.00" height="12" fill="#000"/>
<rect x="298.10" y="2948.80" width="12" height="17.50" fill="#000"/>
<rect x="426.17" y="2948.80" width="12" height="7.00" fill="#000"/>
<rect x="554.25" y="2948.80" width="12" height="17.50" fill="#000"/>
<rect x="682.32" y="2948.80" width="12" height="7.00" fill="#000"/>
<rect x="810.39" y="2948.80" width="12" height="17.50" fill="#000"/>
<rect x="938.46" y="2948.80" width="12" height="7.00" fill="#000"/>
<rect x="1066.54" y="2948.80" width="12" height="17.50" fill="#000"/>
<rect x="1194.61" y="2948.80" width="12" height="7.00" fill="#000"/>
<rect x="1322.68" y="2948.80" width="12" height="17.50" fill="#000"/>
<rect x="1450.75" y="2948.80" width="12" height="7.00" fill="#000"/>
<rect x="1578.83" y="2948.80" width="12" height="17.50" fill="#000"/>
<rect x="1706.90" y="2948.80" width="12" height="7.00" fill="#000"/>
<rect x="298.10" y="1801.90" width="1438.30" height="12" fill="#f00"/>
<rect x="298.10" y="1812.90" width="12" height="17.60" fill="#f00"/>
<rect x="426.17" y="1812.90" width="12" height="7.40" fill="#f00"/>
<rect x="554.25" y="1812.90" width="12" height="17.60" fill="#f00"/>
<rect x="682.32" y="1812.90" width="12" height="7.40" fill="#f00"/>
<rect x="810.39" y="1812.90" width="12" height="17.60" fill="#f00"/>
<rect x="938.46" y="1812.90" width="12" height="7.40" fill="#f00"/>
<rect x="1066.54" y="1812.90" width="12" height="17.60" fill="#f00"/>
<rect x="1194.61" y="1812.90" width="12" height="7.40" fill="#f00"/>
<rect x="1322.68" y="1812.90" width="12" height="17.60" fill="#f00"/>
<rect x="1450.75" y="1812.90" width="12" height="7.40" fill="#f00"/>
<rect x="1578.83" y="1812.90" width="12" height="17.60" fill="#f00"/>
<rect x="1706.90" y="1812.90" width="12" height="7.40" fill="#f00"/>
<rect x="1706.90" y="1801.90" width="12" height="1147.90" fill="#f00"/>
<rect x="1717.90" y="2937.80" width="18.50" height="12" fill="#f00"/>
<rect x="1717.90" y="2824.21" width="7.60" height="12" fill="#f00"/>
<rect x="1717.90" y="2710.62" width="18.50" height="12" fill="#f00"/>
<rect x="1717.90" y="2597.03" width="7.60" height="12" fill="#f00"/>
<rect x="1717.90" y="2483.44" width="18.50" height="12" fill="#f00"/>
<rect x="1717.90" y="2369.85" width="7.60" height="12" fill="#f00"/>
<rect x="1717.90" y="2256.26" width="18.50" height="12" fill="#f00"/>
<rect x="1717.90" y="2142.67" width="7.60" height="12" fill="#f00"/>
<rect x="1717.90" y="2029.08" width="18.50" height="12" fill="#f00"/>
<rect x="1717.90" y="1915.49" width="7.60" height="12" fill="#f00"/>
<rect x="1717.90" y="1801.90" width="18.50" height="12" fill="#f00"/><g filter="url(#bin)"><text x="224.2" y="1297.3" text-anchor="end" font-family="'Liberation Serif',serif" font-weight="bold" font-size="63">0</text>
<text x="224.2" y="1055.9" text-anchor="end" font-family="'Liberation Serif',serif" font-weight="bold" font-size="63">20</text>
<text x="224.2" y="814.5" text-anchor="end" font-family="'Liberation Serif',serif" font-weight="bold" font-size="63">40</text>
<text x="224.2" y="573.1" text-anchor="end" font-family="'Liberation Serif',serif" font-weight="bold" font-size="63">60</text>
<text x="224.2" y="331.7" text-anchor="end" font-family="'Liberation Serif',serif" font-weight="bold" font-size="63">80</text>
<text x="224.2" y="90.3" text-anchor="end" font-family="'Liberation Serif',serif" font-weight="bold" font-size="63">100</text>
<text x="263.5" y="1367.9" text-anchor="middle" font-family="'Liberation Serif',serif" font-weight="bold" font-size="63">300</text>
<text x="562.2" y="1367.9" text-anchor="middle" font-family="'Liberation Serif',serif" font-weight="bold" font-size="63">400</text>
<text x="861.0" y="1367.9" text-anchor="middle" font-family="'Liberation Serif',serif" font-weight="bold" font-size="63">500</text>
<text x="1159.7" y="1367.9" text-anchor="middle" font-family="'Liberation Serif',serif" font-weight="bold" font-size="63">600</text>
<text x="1458.5" y="1367.9" text-anchor="middle" font-family="'Liberation Serif',serif" font-weight="bold" font-size="63">700</text>
<text x="1757.2" y="1367.9" text-anchor="middle" font-family="'Liberation Serif',serif" font-weight="bold" font-size="63">800</text>
<text x="1010.9" y="1471.4" text-anchor="middle" font-family="'Liberation Serif',serif" font-weight="bold" font-size="62.5" style="font-kerning:none">Wavelength(nm)</text>
<text transform="translate(114.3,675.7) rotate(-90)" text-anchor="middle" font-family="'Liberation Serif',serif" font-weight="bold" font-size="63">IPCE(%)</text>
<text x="36.5" y="135.2" font-family="'Liberation Serif',serif" font-weight="bold" font-size="80">(a)</text>
<text x="898.5" y="850.0" font-family="'Liberation Serif',serif" font-weight="bold" font-size="56.5">pure NiOx</text>
<text x="896.5" y="922.3" font-family="'Liberation Serif',serif" font-weight="bold" font-size="56.5">10mg/ml Li+1mg/ml Co</text>
<text x="896.5" y="993.5" font-family="'Liberation Serif',serif" font-weight="bold" font-size="56.5">10mg/ml Li</text>
<text x="896.5" y="1064.5" font-family="'Liberation Serif',serif" font-weight="bold" font-size="56.5">10mg/ml Li+5mg/ml Co</text>
<text x="896.5" y="1135.8" font-family="'Liberation Serif',serif" font-weight="bold" font-size="56.5">10mg/ml Li+10mg/ml Co</text>
<text x="266.2" y="2962.3" text-anchor="end" font-family="'Liberation Serif',serif" font-weight="bold" font-size="64.5">0</text>
<text x="266.2" y="2736.6" text-anchor="end" font-family="'Liberation Serif',serif" font-weight="bold" font-size="64.5">20</text>
<text x="266.2" y="2509.4" text-anchor="end" font-family="'Liberation Serif',serif" font-weight="bold" font-size="64.5">40</text>
<text x="266.2" y="2282.3" text-anchor="end" font-family="'Liberation Serif',serif" font-weight="bold" font-size="64.5">60</text>
<text x="266.2" y="2055.1" text-anchor="end" font-family="'Liberation Serif',serif" font-weight="bold" font-size="64.5">80</text>
<text x="266.2" y="1827.9" text-anchor="end" font-family="'Liberation Serif',serif" font-weight="bold" font-size="64.5">100</text>
<text x="302.1" y="3031.3" text-anchor="middle" font-family="'Liberation Serif',serif" font-weight="bold" font-size="64.5">300</text>
<text x="559.9" y="3031.3" text-anchor="middle" font-family="'Liberation Serif',serif" font-weight="bold" font-size="64.5">400</text>
<text x="816.1" y="3031.3" text-anchor="middle" font-family="'Liberation Serif',serif" font-weight="bold" font-size="64.5">500</text>
<text x="1072.2" y="3031.3" text-anchor="middle" font-family="'Liberation Serif',serif" font-weight="bold" font-size="64.5">600</text>
<text x="1328.4" y="3031.3" text-anchor="middle" font-family="'Liberation Serif',serif" font-weight="bold" font-size="64.5">700</text>
<text x="1584.5" y="3031.3" text-anchor="middle" font-family="'Liberation Serif',serif" font-weight="bold" font-size="64.5">800</text>
<text x="1008.5" y="3116.3" text-anchor="middle" font-family="'Liberation Serif',serif" font-weight="bold" font-size="63.8" style="font-kerning:none">Wavelength (nm)</text>
<text transform="translate(159.2,2348.9) rotate(-90)" text-anchor="middle" font-family="'Liberation Serif',serif" font-weight="bold" font-size="64.5">IPCE (%)</text>
<text x="56.3" y="1852.2" font-family="'Liberation Serif',serif" font-weight="bold" font-size="81">(b)</text>
<text x="1751" y="2973.0" fill="#f00" stroke="#f00" stroke-width="1.1" font-family="'Liberation Serif',serif" font-size="76">0</text>
<text x="1751" y="2745.8" fill="#f00" stroke="#f00" stroke-width="1.1" font-family="'Liberation Serif',serif" font-size="76">5</text>
<text x="1751" y="2518.6" fill="#f00" stroke="#f00" stroke-width="1.1" font-family="'Liberation Serif',serif" font-size="76">10</text>
<text x="1751" y="2291.5" fill="#f00" stroke="#f00" stroke-width="1.1" font-family="'Liberation Serif',serif" font-size="76">15</text>
<text x="1751" y="2064.3" fill="#f00" stroke="#f00" stroke-width="1.1" font-family="'Liberation Serif',serif" font-size="76">20</text>
<text x="1751" y="1837.1" fill="#f00" stroke="#f00" stroke-width="1.1" font-family="'Liberation Serif',serif" font-size="76">25</text>
<text transform="translate(1876.3,2425.3) rotate(90)" text-anchor="middle" fill="#f00" font-family="'Liberation Serif',serif" font-weight="bold" font-size="75.5">Integrated Jsc (mA/cm<tspan font-size="47" dy="-33">2</tspan><tspan dy="33">)</tspan></text></g></svg></body></html>
